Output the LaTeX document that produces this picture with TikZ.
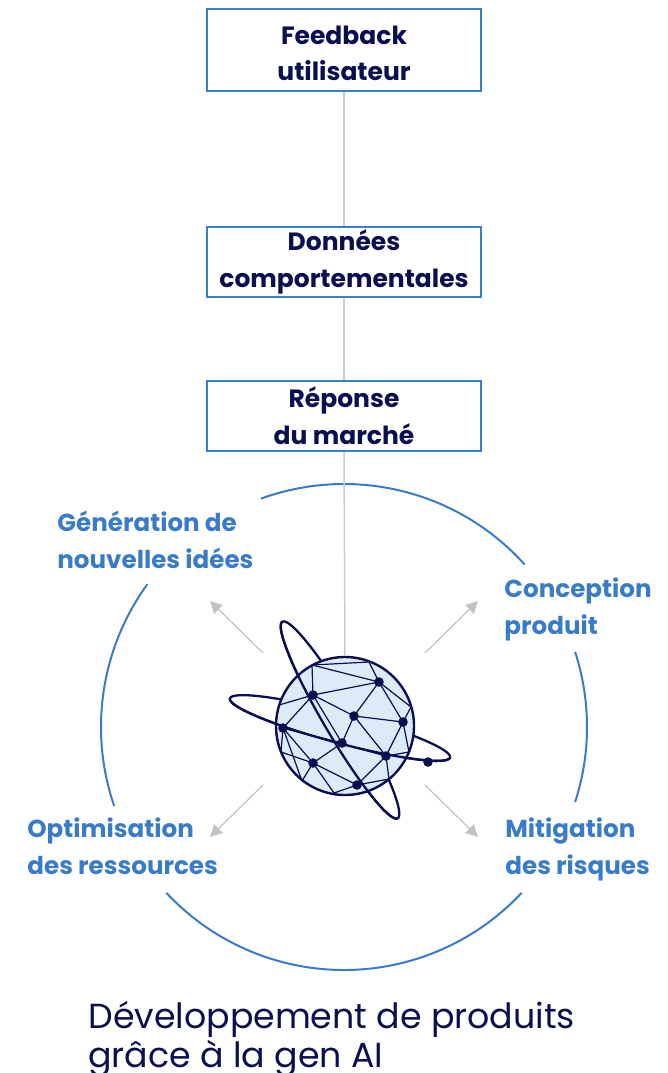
\documentclass[tikz,border=0pt]{standalone}
\usepackage{fontspec}
\setmainfont{Poppins}
\usetikzlibrary{positioning,arrows.meta}
\definecolor{navy}{HTML}{0B0E4F}
\definecolor{boxblue}{HTML}{3B7DCF}
\definecolor{ringblue}{HTML}{3A7BC8}
\definecolor{globefill}{HTML}{DDEAF8}
\definecolor{raygray}{HTML}{C2C2C4}
\definecolor{linkgray}{HTML}{CCCCCC}

\begin{document}
\begin{tikzpicture}[x=0.5pt, y=0.5pt,
      every node/.style={inner sep=0pt},
      box/.style={draw=boxblue, line width=1pt, minimum width=137pt, align=center,
        text=navy, font=\bfseries\fontsize{12.5}{18.4}\selectfont},
      tall/.style={minimum height=41pt},
      flat/.style={minimum height=35pt},
      lbl/.style={align=left, text=ringblue, font=\bfseries\fontsize{12.3}{18.4}\selectfont},
      heading/.style={align=left, text=navy, font=\fontsize{17.4}{18}\selectfont},
      ring/.style={draw=ringblue, line width=1pt},
      link/.style={draw=linkgray, line width=0.75pt},
      ray/.style={draw=raygray, line width=0.6pt, -{Triangle[length=6pt,width=6pt]}},
      orbit/.style={draw=navy, line width=1.15pt},
      mesh/.style={draw=navy, line width=0.6pt}]
      \useasboundingbox (0,0) rectangle (668,-1073);

      % outer cycle, broken at the four labels
      \coordinate (c) at (344,-727);
      \draw[ring] (c) ++(42:243) arc [start angle=42, end angle=110, radius=243];
      \draw[ring] (c) ++(144:243) arc [start angle=144, end angle=199, radius=243];
      \draw[ring] (c) ++(223:243) arc [start angle=223, end angle=317, radius=243];
      \draw[ring] (c) ++(-18:243) arc [start angle=-18, end angle=18, radius=243];

      % sources
      \node[box,tall] (m0) at (344,-50) {\rule{0pt}{12.5pt}Feedback\\utilisateur};
      \node[box,flat] (m1) [below of=m0,yshift=-77.5pt] {Données\\comportementales};
      \node[box,flat] (m2) [below of=m1,yshift=-48.55pt] {Réponse\\du marché};

      % orbits, back side
      \begin{scope}[shift={(340,-720)}, rotate=-59.6]
        \draw[orbit] (0,0) ellipse [x radius=114, y radius=16];
      \end{scope}
      \begin{scope}[shift={(340,-728)}, rotate=-15]
        \draw[orbit] (0,0) ellipse [x radius=114, y radius=15];
      \end{scope}

      \node[circle, minimum size=69pt, draw=navy, line width=1.2pt, fill=globefill] (globe) at (345,-726) {};

      \draw[link] (m0) -- (m1);
      \draw[link] (m1) -- (m2);
      \draw[link] (m2.south) -- (globe.north);

      % mesh on the globe
      \foreach \n/\x/\y in {d0/379/682, d1/313/695, d2/354/716, d3/403/722, d4/283/728,
          d5/342/743, d6/386/756, d7/313/763, d8/357/785, d9/428/762,
          r1/312/665, r2/369/662, r3/411/707, r4/409/752, r5/279/705,
          r6/281/752, r7/302/781, r8/334/793, r9/389/779}
        \coordinate (\n) at (\x,-\y);
      \foreach \a/\b in {r1/r2, r1/d0, r2/d0, r1/d1, d1/d0, d1/r5, d1/d4, d1/d2, d1/d5,
          d0/d2, d0/d3, d0/r3, d3/r3, d2/d3, d2/d5, d2/d6, d3/d6, d3/r4, d4/d5, d4/d6,
          d4/d7, d4/r6, d4/r7, r6/d7, d5/d7, d7/r7, d7/d8, d7/r8, d8/r8, d6/d8, d6/r4,
          d6/r9, d8/r9}
        \draw[mesh] (\a) -- (\b);

      % orbits, front side
      \begin{scope}[shift={(340,-720)}, rotate=-59.6]
        \draw[orbit] (-114,0) arc [start angle=180, end angle=360, x radius=114, y radius=16];
      \end{scope}
      \begin{scope}[shift={(340,-728)}, rotate=-15]
        \draw[orbit] (-114,0) arc [start angle=180, end angle=360, x radius=114, y radius=15];
      \end{scope}

      \foreach \n in {d0,d1,d2,d3,d4,d5,d6,d7,d8,d9}
        \fill[navy] (\n) circle [radius=4.8];

      % rays towards the labels
      \foreach \n/\sx/\sy in {gen/-1/1, con/1/1, opt/-1/-1, mit/1/-1} {
        \coordinate (\n0) at (\sx*81+344, \sy*66-719);
        \coordinate (\n1) at (\sx*134+344, \sy*118-719);
        \draw[ray] (\n0) -- (\n1);
      }

      \node[lbl, anchor=base west] (n0) at (57,-568) {Génération de\\nouvelles idées};
      \node[lbl, anchor=base west] (n1) at (504,-634) {Conception\\produit};
      \node[lbl, anchor=base west] (n2) at (27,-874) {Optimisation\\des ressources};
      \node[lbl, anchor=base west] (n3) at (505,-874) {Mitigation\\des risques};

      \node[heading, anchor=base west] (t0) at (88,-1067) {Développement de produits\\grâce à la gen AI};
    \end{tikzpicture}
\end{document}
